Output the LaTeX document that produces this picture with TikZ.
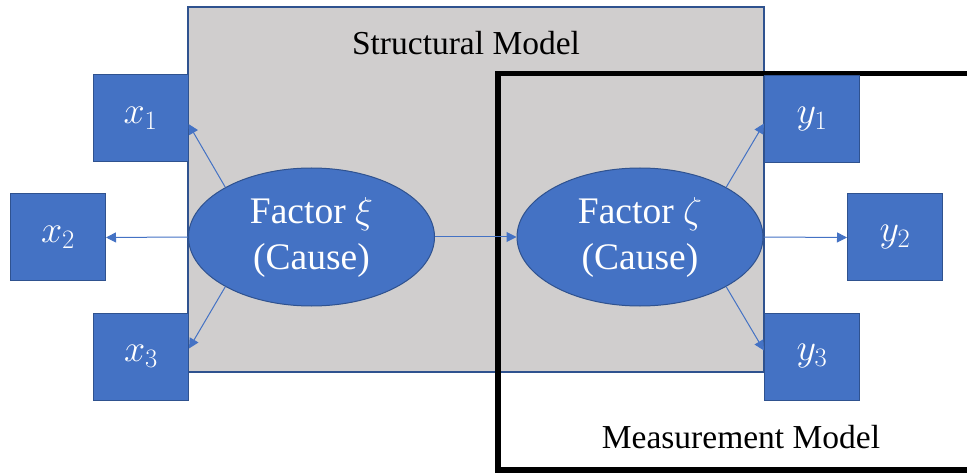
\RequirePackage{fix-cm}
\documentclass[tikz,border=0pt]{standalone}
\usepackage{fontspec}
\setmainfont{Liberation Serif}
\usetikzlibrary{arrows.meta,shapes.geometric}
\definecolor{accent}{HTML}{4472C4}
\definecolor{accentdark}{HTML}{2F528F}
\definecolor{panelgray}{HTML}{D0CECE}
\tikzset{
  indicator/.style={rectangle, fill=accent, draw=accentdark, line width=1pt,
    minimum width=95pt, minimum height=87pt, inner sep=0pt, text=white,
    font=\fontsize{38}{40}\selectfont},
  factor/.style={ellipse, fill=accent, draw=accentdark, line width=1pt,
    minimum width=246pt, minimum height=138pt, inner sep=0pt, text=white,
    align=center, font=\fontsize{37.5}{46}\selectfont},
  link/.style={draw=accent, line width=1pt,
    -{Triangle[length=10pt,width=10pt]}},
  caption/.style={font=\fontsize{33.5}{36}\selectfont, inner sep=0pt}
}
\begin{document}
\begin{tikzpicture}[x=1pt,y=-1pt]
\useasboundingbox (0,0) rectangle (967,473);
% structural model panel
\draw[fill=panelgray, draw=accentdark, line width=1.5pt] (188,7) rectangle (764,372);
\node[caption] (smlabel) at (466,43) {Structural Model};
% measurement model frame (runs past the right edge)
\draw[black, line width=5.5pt] (990,73.5) -- (498,73.5) -- (498,470) -- (990,470);
\node[caption] (mmlabel) at (741,437) {Measurement Model};
% latent factors
\node[factor] (xi) at (311.5,237) {Factor $\xi$\\(Cause)};
\node[factor] (zeta) at (640,237) {Factor $\zeta$\\(Cause)};
% indicators
\node[indicator] (x1) at (140.5,118) {$x_1$};
\node[indicator] (x2) at (58,237.5) {$x_2$};
\node[indicator] (x3) at (141,356.5) {$x_3$};
\node[indicator] (y1) at (812,119.5) {$y_1$};
\node[indicator] (y2) at (895,237.5) {$y_2$};
\node[indicator] (y3) at (812,356.5) {$y_3$};
% paths
\draw[link] (xi.150) -- ([yshift=-6pt]x1.east);
\draw[link] (xi.west) -- (x2.east);
\draw[link] (xi.210) -- ([yshift=8pt]x3.east);
\draw[link] (xi.east) -- (zeta.west);
\draw[link] (zeta.30) -- ([yshift=-4pt]y1.west);
\draw[link] (zeta.east) -- (y2.west);
\draw[link] (zeta.-30) -- ([yshift=6pt]y3.west);
\end{tikzpicture}
\end{document}
